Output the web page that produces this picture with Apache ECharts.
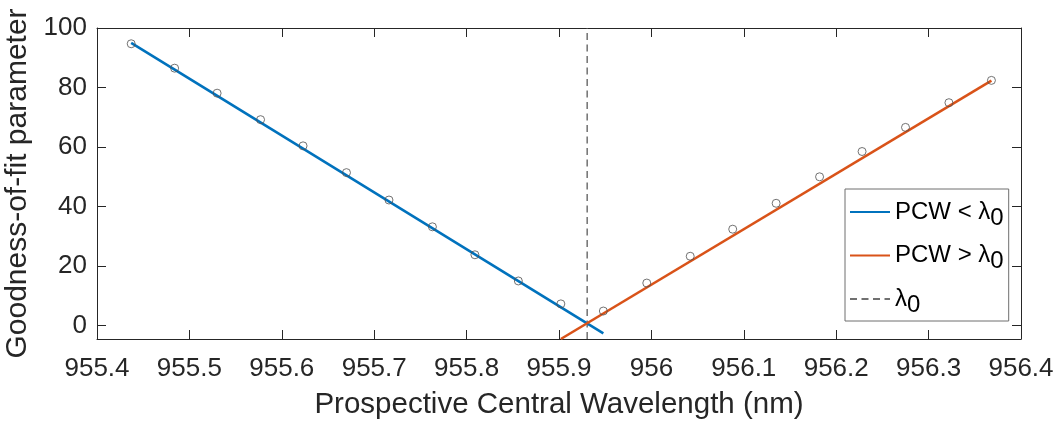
<!DOCTYPE html>
<html>
<head>
<meta charset="utf-8">
<script src="https://cdn.jsdelivr.net/npm/echarts@6/dist/echarts.min.js"></script>
<style>
html,body{margin:0;padding:0;background:#fff;}
#chart{width:1059px;height:421px;}
</style>
</head>
<body>
<div id="chart"></div>
<script>
// ---- data ----
const blueX = [955.437, 955.484, 955.530, 955.577, 955.623, 955.670, 955.716, 955.763, 955.809, 955.856, 955.902];
const blueY = [94.7, 86.5, 78.1, 69.2, 60.4, 51.4, 42.2, 33.2, 23.8, 15.0, 7.3];
const orangeX = [955.948, 955.995, 956.042, 956.088, 956.135, 956.182, 956.228, 956.275, 956.322, 956.368];
const orangeY = [4.9, 14.3, 23.3, 32.4, 41.1, 50.0, 58.5, 66.6, 74.9, 82.4];
const blueFitX = [955.437, 955.948];
const blueFitY = [95.0, -2.6];
const orangeFitX = [955.902, 956.368];
const orangeFitY = [-4.5, 82.3];
const lambda0 = 955.9305;
const lambdaLineY = [-4.5, 100];
const xTickLabels = ['955.4','955.5','955.6','955.7','955.8','955.9','956','956.1','956.2','956.3','956.4'];
const yTickValues = [0, 20, 40, 60, 80, 100];
const yTickLabels = ['0','20','40','60','80','100'];
const seriesNames = ['PCW < λ0', 'PCW > λ0', 'λ0'];

const zip = (xs, ys) => xs.map((x, i) => [x, ys[i]]);
const FONT = "'Liberation Sans', Arial, Helvetica, sans-serif";
const AX = '#262626';

const chart = echarts.init(document.getElementById('chart'), null, {renderer: 'canvas'});

const xAxisBase = {
  type: 'value', min: 955.4, max: 956.4, interval: 0.1,
  axisLine: {show: true, onZero: false, lineStyle: {color: AX, width: 1}},
  axisTick: {show: true, inside: true, length: 9, lineStyle: {color: AX}},
  splitLine: {show: false}
};
const yAxisBase = {
  type: 'value', min: -4.5, max: 100, minInterval: 20, maxInterval: 20, splitNumber: 5,
  axisLine: {show: true, onZero: false, lineStyle: {color: AX, width: 1}},
  axisTick: {show: true, inside: true, length: 9, lineStyle: {color: AX}},
  splitLine: {show: false}
};

const option = {
  animation: false,
  backgroundColor: '#fff',
  textStyle: {fontFamily: FONT},
  grid: {left: 97, right: 38, top: 28, bottom: 82, containLabel: false, outerBoundsMode: 'none'},
  xAxis: [
    Object.assign({}, xAxisBase, {
      position: 'bottom',
      name: 'Prospective Central Wavelength (nm)',
      nameLocation: 'middle', nameGap: 51,
      nameTextStyle: {fontSize: 29.5, color: AX, fontFamily: FONT},
      axisLabel: {
        show: true, margin: 17, fontSize: 26, color: AX, fontFamily: FONT,
        showMinLabel: true, showMaxLabel: true, hideOverlap: false,
        formatter: v => { const i = Math.round((v - 955.4) * 10); return xTickLabels[i] !== undefined ? xTickLabels[i] : ''; }
      }
    }),
    Object.assign({}, xAxisBase, {position: 'top', axisLabel: {show: false}})
  ],
  yAxis: [
    Object.assign({}, yAxisBase, {
      position: 'left',
      name: 'Goodness-of-fit parameter',
      nameLocation: 'middle', nameGap: 47,
      nameTextStyle: {fontSize: 30, color: AX, fontFamily: FONT},
      axisLabel: {
        show: true, margin: 10, fontSize: 26, color: AX, fontFamily: FONT,
        showMinLabel: true, showMaxLabel: true, hideOverlap: false,
        formatter: v => { const i = yTickValues.findIndex(t => Math.abs(t - v) < 1e-6); return i >= 0 ? yTickLabels[i] : ''; }
      }
    }),
    Object.assign({}, yAxisBase, {position: 'right', axisLabel: {show: false}})
  ],
  legend: {
    orient: 'vertical', left: 845, top: 189,
    data: seriesNames,
    itemWidth: 40, itemHeight: 14, itemGap: 7.5,
    padding: [5, 5, 4, 4],
    borderColor: '#6e6e6e', borderWidth: 1, backgroundColor: '#fff',
    itemStyle: {opacity: 0},
    formatter: name => name.replace('λ0', 'λ{sub|0}'),
    textStyle: {
      fontSize: 24, color: '#000', fontFamily: FONT, lineHeight: 32,
      rich: {
        sub: {fontSize: 24, color: '#000', fontFamily: FONT, lineHeight: 20, padding: [12, 0, 0, 0]}
      }
    }
  },
  series: [
    {
      name: seriesNames[2], type: 'line', z: 1,
      data: zip([lambda0, lambda0], lambdaLineY),
      symbol: 'none', showSymbol: false,
      lineStyle: {color: '#707070', width: 1.5, type: [7, 4.5]},
      itemStyle: {color: '#707070'}
    },
    {
      name: seriesNames[0], type: 'line', z: 3,
      data: zip(blueFitX, blueFitY),
      symbol: 'none', showSymbol: false,
      lineStyle: {color: '#0072BD', width: 2.6},
      itemStyle: {color: '#0072BD'}
    },
    {
      name: seriesNames[1], type: 'line', z: 3,
      data: zip(orangeFitX, orangeFitY),
      symbol: 'none', showSymbol: false,
      lineStyle: {color: '#D95319', width: 2.6},
      itemStyle: {color: '#D95319'}
    },
    {
      name: 'pointsLow', type: 'scatter', z: 4,
      data: zip(blueX, blueY),
      symbol: 'circle', symbolSize: 8,
      itemStyle: {color: 'rgba(0,0,0,0)', borderColor: '#505050', borderWidth: 1}
    },
    {
      name: 'pointsHigh', type: 'scatter', z: 4,
      data: zip(orangeX, orangeY),
      symbol: 'circle', symbolSize: 8,
      itemStyle: {color: 'rgba(0,0,0,0)', borderColor: '#505050', borderWidth: 1}
    }
  ]
};
chart.setOption(option);
</script>
</body>
</html>
